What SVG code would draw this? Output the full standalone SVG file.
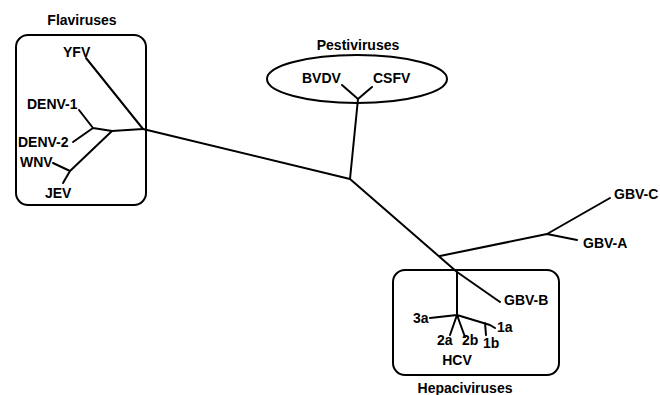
<svg xmlns="http://www.w3.org/2000/svg" width="660" height="395" viewBox="0 0 660 395">
<style>
text{font-family:"Liberation Sans",Arial,sans-serif;font-weight:bold;font-size:14px;fill:#000}
.box{fill:none;stroke:#000;stroke-width:2}
.br{fill:none;stroke:#000;stroke-width:2;stroke-linecap:round;stroke-linejoin:round}
</style>
<rect width="660" height="395" fill="#fff"/>
<g id="flaviviruses">
<rect class="box" x="16" y="35" width="130" height="170" rx="12"/>
<text x="82" y="25" text-anchor="middle">Flaviruses</text>
<text x="63" y="57">YFV</text>
<text x="27" y="109">DENV-1</text>
<text x="18" y="147">DENV-2</text>
<text x="20" y="167">WNV</text>
<text x="45" y="198">JEV</text>
</g>
<g id="pestiviruses">
<ellipse class="box" cx="357" cy="79" rx="90" ry="24"/>
<text x="358" y="50" text-anchor="middle">Pestiviruses</text>
<text x="302" y="83">BVDV</text>
<text x="373" y="83">CSFV</text>
</g>
<g id="gbv">
<text x="614" y="199">GBV-C</text>
<text x="583" y="248">GBV-A</text>
</g>
<g id="hepaciviruses">
<rect class="box" x="393" y="270" width="166" height="105" rx="12"/>
<text x="465" y="393" text-anchor="middle">Hepaciviruses</text>
<text x="504" y="305">GBV-B</text>
<text x="413" y="323">3a</text>
<text x="437" y="345">2a</text>
<text x="462" y="345">2b</text>
<text x="483" y="348">1b</text>
<text x="497" y="332">1a</text>
<text x="457" y="365" text-anchor="middle">HCV</text>
</g>
<g id="connectors">
<path class="br" d="M86 58 L143 129 L112 131 L93 128 M79 110 L93 128 L73 142 M112 131 L70 171 L53 163 M70 171 L63 183"/>
<path class="br" d="M143 129 L350 179 L358 99 L342 85 M358 99 L372 87"/>
<path class="br" d="M350 179 L457 272 L500 302"/>
<path class="br" d="M440 256 L547 234 L610 198 M547 234 L577 240"/>
<path class="br" d="M457 272 L457 315 L430 318 M457 315 L450 335 M457 315 L465 337 M457 315 L490 325 M485 323 L486 335 M490 325 L495 328"/>
</g>
</svg>
